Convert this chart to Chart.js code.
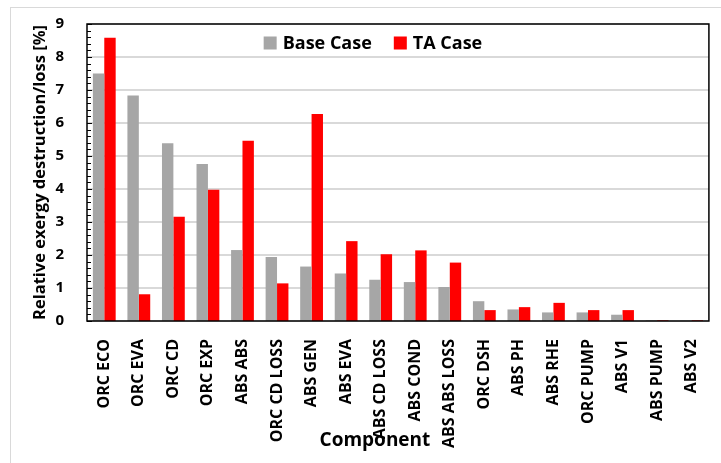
<!DOCTYPE html>
<html>
<head>
<meta charset="utf-8">
<script src="https://cdn.jsdelivr.net/npm/chart.js@4"></script>
<style>
    html, body { margin: 0; padding: 0; background: #fff; }
    #wrap { position: relative; width: 721px; height: 463px; }
    #frame { position: absolute; left: 10px; top: 7px; right: -2px; bottom: -2px; border: 1px solid #d9d9d9; }
    canvas { position: absolute; left: 0; top: 0; }
</style>
</head>
<body>
<div id="wrap">
    <div id="frame"></div>
    <canvas id="exergyChart" width="721" height="463"></canvas>
</div>
<script>
const components = ["ORC ECO", "ORC EVA", "ORC CD", "ORC EXP", "ABS ABS", "ORC CD LOSS", "ABS GEN", "ABS EVA",
    "ABS CD LOSS", "ABS COND", "ABS ABS LOSS", "ORC DSH", "ABS PH", "ABS RHE", "ORC PUMP", "ABS V1", "ABS PUMP", "ABS V2"];
const baseCase = [7.50, 6.83, 5.39, 4.76, 2.15, 1.94, 1.65, 1.44, 1.25, 1.18, 1.03, 0.60, 0.35, 0.26, 0.26, 0.19, 0.02, 0.01];
const taCase = [8.58, 0.81, 3.16, 3.98, 5.46, 1.14, 6.27, 2.42, 2.02, 2.14, 1.77, 0.33, 0.42, 0.55, 0.33, 0.33, 0.02, 0.02];
const yTicks = [0, 1, 2, 3, 4, 5, 6, 7, 8, 9];

const fontFamily = "'Open Sans', sans-serif";

// plot frame, gridlines, little inside ticks on the y axis, legend and x title
const frameTicks = {
    id: "frameTicks",
    afterDraw(chart) {
        const { ctx, chartArea: a } = chart;
        const y = chart.scales.y;
        ctx.save();

        // gridlines go underneath what is already drawn
        ctx.globalCompositeOperation = "destination-over";
        ctx.strokeStyle = "#d9d9d9";
        ctx.lineWidth = 2;
        yTicks.forEach(v => {
            const py = Math.round(y.getPixelForValue(v));
            ctx.beginPath();
            ctx.moveTo(a.left, py);
            ctx.lineTo(a.right, py);
            ctx.stroke();
        });
        ctx.globalCompositeOperation = "source-over";

        ctx.strokeStyle = "#000";
        ctx.lineWidth = 1;
        for (let v = 0; v <= 9.001; v += 0.2) {
            const py = Math.round(y.getPixelForValue(v)) + 0.5;
            const major = Math.abs(v - Math.round(v)) < 0.01;
            ctx.beginPath();
            ctx.moveTo(a.left, py);
            ctx.lineTo(a.left + (major ? 5 : 4), py);
            ctx.stroke();
        }
        ctx.lineWidth = 1.5;
        ctx.strokeRect(a.left, a.top, a.right - a.left, a.bottom - a.top);

        // legend, sitting inside the plot near the top
        const mid = (a.left + a.right) / 2 - 25;
        ctx.font = "bold 18px " + fontFamily;
        ctx.textBaseline = "middle";
        ctx.textAlign = "left";
        const items = chart.data.datasets.map(ds => ({ ds, w: 13 + 6 + ctx.measureText(ds.label).width }));
        const gap = 22;
        const total = items.reduce((s, it) => s + it.w, 0) + gap * (items.length - 1);
        let x = mid - total / 2;
        const ly = a.top + 19;
        items.forEach(it => {
            ctx.fillStyle = it.ds.backgroundColor;
            ctx.fillRect(x, ly - 6.5, 13, 13);
            ctx.fillStyle = "#000";
            ctx.fillText(it.ds.label, x + 19, ly + 1);
            x += it.w + gap;
        });

        // x axis title
        ctx.font = "bold 19px " + fontFamily;
        ctx.textAlign = "center";
        ctx.fillText("Component", mid + 2, 441);
        ctx.restore();
    }
};

new Chart(document.getElementById("exergyChart").getContext("2d"), {
    type: "bar",
    data: {
        labels: components,
        datasets: [
            { label: "Base Case", data: baseCase, backgroundColor: "#a6a6a6", borderWidth: 0 },
            { label: "TA Case", data: taCase, backgroundColor: "#ff0000", borderWidth: 0 }
        ]
    },
    options: {
        responsive: false,
        animation: false,
        layout: { padding: { top: 17, right: 6, left: 0, bottom: 0 } },
        datasets: { bar: { categoryPercentage: 0.66, barPercentage: 1 } },
        plugins: {
            legend: { display: false },
            tooltip: { enabled: false }
        },
        scales: {
            x: {
                afterFit: s => { s.height = 142; },
                grid: { display: false },
                border: { display: false },
                ticks: {
                    minRotation: 90,
                    maxRotation: 90,
                    autoSkip: false,
                    padding: 10,
                    color: "#000",
                    font: { family: fontFamily, size: 16, weight: "bold" }
                }
            },
            y: {
                min: yTicks[0],
                max: yTicks[yTicks.length - 1],
                afterFit: s => { s.width = 87; },
                grid: { display: false },
                border: { display: false },
                ticks: {
                    stepSize: 1,
                    padding: 15,
                    color: "#000",
                    font: { family: fontFamily, size: 15, weight: "bold" }
                },
                title: {
                    display: true,
                    text: "Relative exergy destruction/loss [%]",
                    color: "#000",
                    padding: { top: 30, bottom: 0 },
                    font: { family: fontFamily, size: 16.5, weight: "bold" }
                }
            }
        }
    },
    plugins: [frameTicks]
});
</script>
</body>
</html>
